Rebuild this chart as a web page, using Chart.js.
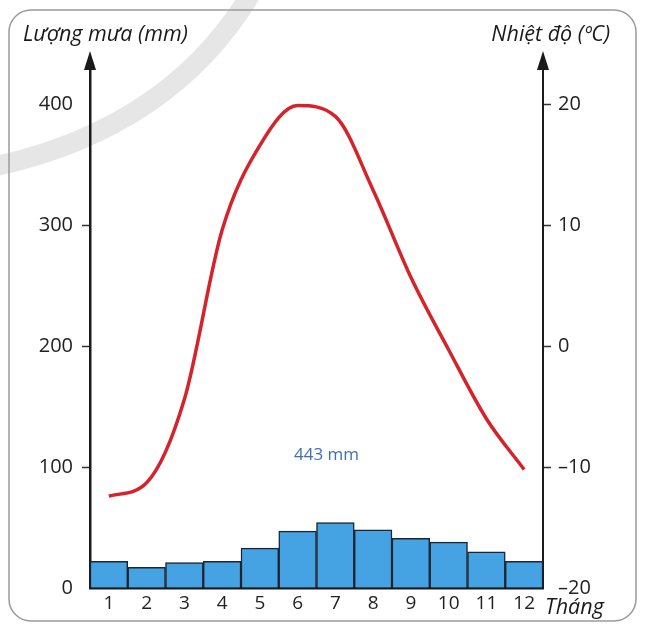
<!DOCTYPE html>
<html>
<head>
<meta charset="utf-8">
<script src="https://cdn.jsdelivr.net/npm/chart.js@4/dist/chart.umd.min.js"></script>
<style>
html,body{margin:0;padding:0;background:#fff;}
canvas{display:block;}
</style>
</head>
<body>
<canvas id="c" width="645" height="629"></canvas>
<script>
const months = ['1','2','3','4','5','6','7','8','9','10','11','12'];
const rainfall = [22, 17, 21, 22, 33, 47, 54, 48, 41, 38, 30, 22];
const temperature = [-12.4, -11.3, -4.4, 9.6, 16.6, 19.9, 19.0, 12.9, 5.7, -0.3, -6.0, -10.2];
const rainTicks = [0, 100, 200, 300, 400];
const tempTicks = [-20, -10, 0, 10, 20];
const rainTitle = 'Lượng mưa (mm)';
const tempTitle = 'Nhiệt độ (ºC)';
const xTitle = 'Tháng';
const totalLabel = '443 mm';

const FONT = '"Open Sans", "Noto Sans", sans-serif';
const fmtNum = v => (v < 0 ? '\u2013' + Math.abs(v) : String(v));

const decor = {
  id: 'decor',
  beforeDraw(chart) {
    const ctx = chart.ctx;
    ctx.save();
    ctx.strokeStyle = '#e6e6e6';
    ctx.lineWidth = 20;
    ctx.beginPath();
    ctx.moveTo(252, -8);
    ctx.quadraticCurveTo(170, 130, -12, 168);
    ctx.stroke();
    ctx.strokeStyle = '#9a9a9a';
    ctx.lineWidth = 1.5;
    const x = 9, y = 10, w = 627, h = 611, r = 22;
    ctx.beginPath();
    ctx.moveTo(x + r, y);
    ctx.arcTo(x + w, y, x + w, y + h, r);
    ctx.arcTo(x + w, y + h, x, y + h, r);
    ctx.arcTo(x, y + h, x, y, r);
    ctx.arcTo(x, y, x + w, y, r);
    ctx.closePath();
    ctx.stroke();
    ctx.restore();
  },
  afterDraw(chart) {
    const ctx = chart.ctx;
    const a = chart.chartArea;
    ctx.save();
    ctx.fillStyle = '#1a1a1a';
    [a.left, a.right].forEach(px => {
      ctx.beginPath();
      ctx.moveTo(px, a.top - 17);
      ctx.lineTo(px - 6, a.top + 2);
      ctx.lineTo(px + 6, a.top + 2);
      ctx.closePath();
      ctx.fill();
    });
    ctx.font = 'italic 21.5px ' + FONT;
    ctx.fillStyle = '#1a1a1a';
    ctx.textBaseline = 'alphabetic';
    ctx.textAlign = 'left';
    ctx.fillText(rainTitle, 23, 41);
    ctx.textAlign = 'right';
    ctx.fillText(tempTitle, 610, 41);
    ctx.textAlign = 'left';
    ctx.fillText(xTitle, 545, 614);
    ctx.font = '17px ' + FONT;
    ctx.fillStyle = '#3d6fb3';
    ctx.textAlign = 'center';
    const xs = chart.scales.x;
    const yy = chart.scales.yRain;
    ctx.fillText(totalLabel, (xs.getPixelForValue(5) + xs.getPixelForValue(6)) / 2 + 10, yy.getPixelForValue(100) - 7);
    ctx.restore();
  }
};

new Chart(document.getElementById('c'), {
  data: {
    labels: months,
    datasets: [
      {
        type: 'line',
        data: temperature,
        yAxisID: 'yTemp',
        borderColor: '#d5232c',
        borderWidth: 3.5,
        pointRadius: 0,
        cubicInterpolationMode: 'monotone',
        order: 0
      },
      {
        type: 'bar',
        data: rainfall,
        yAxisID: 'yRain',
        backgroundColor: '#46a3e3',
        borderColor: '#1c2530',
        borderWidth: 1.5,
        categoryPercentage: 1,
        barPercentage: 1,
        order: 1
      }
    ]
  },
  options: {
    responsive: false,
    animation: false,
    devicePixelRatio: 1,
    layout: { padding: { top: 68, left: 0, right: 0, bottom: 0 } },
    plugins: { legend: { display: false }, tooltip: { enabled: false } },
    scales: {
      x: {
        type: 'category',
        offset: true,
        grid: { display: false, drawTicks: false },
        border: { display: true, color: '#1a1a1a', width: 2.5 },
        ticks: { color: '#222', font: { family: FONT, size: 19 }, padding: 4, maxRotation: 0 },
        afterFit(s) { s.height = 41; }
      },
      yRain: {
        type: 'linear',
        position: 'left',
        min: 0,
        max: 430,
        afterBuildTicks(s) { s.ticks = rainTicks.map(v => ({ value: v })); },
        grid: {
          drawOnChartArea: false,
          drawTicks: true,
          tickLength: 8,
          tickWidth: 1.5,
          tickColor: c => (c.tick && c.tick.value > 0 && c.tick.value < 400 ? '#333' : 'rgba(0,0,0,0)')
        },
        border: { display: true, color: '#1a1a1a', width: 2.5 },
        ticks: { color: '#222', font: { family: FONT, size: 20 }, padding: 9, callback: v => fmtNum(v) },
        afterFit(s) { s.width = 90; }
      },
      yTemp: {
        type: 'linear',
        position: 'right',
        min: -20,
        max: 23,
        afterBuildTicks(s) { s.ticks = tempTicks.map(v => ({ value: v })); },
        grid: {
          drawOnChartArea: false,
          drawTicks: true,
          tickLength: 8,
          tickWidth: 1.5,
          tickColor: c => (c.tick && c.tick.value > -20 ? '#333' : 'rgba(0,0,0,0)')
        },
        border: { display: true, color: '#1a1a1a', width: 2 },
        ticks: { color: '#222', font: { family: FONT, size: 20 }, padding: 7, callback: v => fmtNum(v) },
        afterFit(s) { s.width = 102; }
      }
    }
  },
  plugins: [decor]
});
</script>
</body>
</html>
